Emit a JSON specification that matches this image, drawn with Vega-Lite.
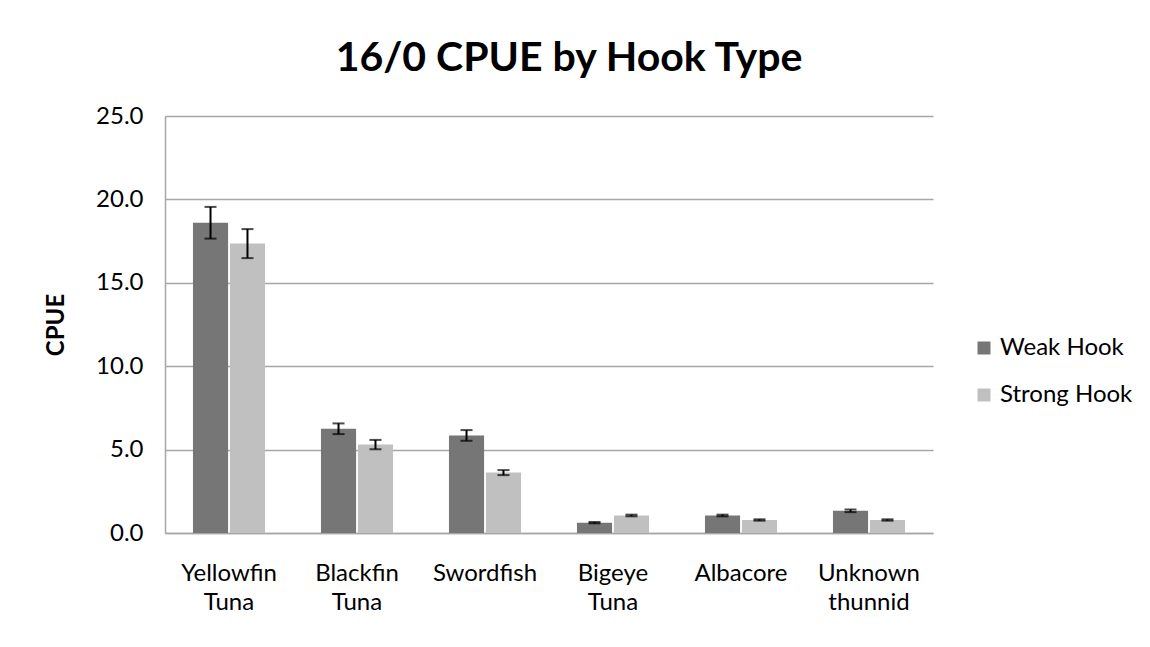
{
  "$schema": "https://vega.github.io/schema/vega-lite/v6.json",
  "width": 768,
  "height": 417,
  "autosize": {"type": "none"},
  "padding": {"left": 165, "top": 116, "right": 217, "bottom": 114},
  "background": "white",
  "config": {"font": "Lato", "view": {"stroke": null}},
  "title": {"text": "16/0 CPUE by Hook Type", "fontSize": 41, "fontWeight": "bold", "font": "Lato", "color": "black", "anchor": "middle", "dx": 20, "offset": 24},
  "data": {"values": [
    {"species": "Yellowfin Tuna", "hook": "Weak Hook", "cpue": 18.6, "lo": 17.65, "hi": 19.55},
    {"species": "Yellowfin Tuna", "hook": "Strong Hook", "cpue": 17.35, "lo": 16.48, "hi": 18.22},
    {"species": "Blackfin Tuna", "hook": "Weak Hook", "cpue": 6.25, "lo": 5.93, "hi": 6.57},
    {"species": "Blackfin Tuna", "hook": "Strong Hook", "cpue": 5.3, "lo": 5.02, "hi": 5.58},
    {"species": "Swordfish", "hook": "Weak Hook", "cpue": 5.85, "lo": 5.53, "hi": 6.17},
    {"species": "Swordfish", "hook": "Strong Hook", "cpue": 3.62, "lo": 3.47, "hi": 3.77},
    {"species": "Bigeye Tuna", "hook": "Weak Hook", "cpue": 0.62, "lo": 0.58, "hi": 0.66},
    {"species": "Bigeye Tuna", "hook": "Strong Hook", "cpue": 1.05, "lo": 1.0, "hi": 1.1},
    {"species": "Albacore", "hook": "Weak Hook", "cpue": 1.05, "lo": 1.0, "hi": 1.1},
    {"species": "Albacore", "hook": "Strong Hook", "cpue": 0.78, "lo": 0.74, "hi": 0.82},
    {"species": "Unknown thunnid", "hook": "Weak Hook", "cpue": 1.33, "lo": 1.25, "hi": 1.41},
    {"species": "Unknown thunnid", "hook": "Strong Hook", "cpue": 0.78, "lo": 0.74, "hi": 0.82}
  ]},
  "encoding": {
    "x": {
      "field": "species", "type": "nominal",
      "sort": ["Yellowfin Tuna", "Blackfin Tuna", "Swordfish", "Bigeye Tuna", "Albacore", "Unknown thunnid"],
      "scale": {"paddingInner": 0.437, "paddingOuter": 0.2185},
      "axis": {"title": null, "labelAngle": 0, "labelFontSize": 24, "labelColor": "black", "labelExpr": "split(datum.label, ' ')", "labelLineHeight": 29, "labelPadding": 28, "ticks": false, "domainColor": "#a6a6a6", "domainWidth": 1.5}
    },
    "xOffset": {"field": "hook", "type": "nominal", "sort": ["Weak Hook", "Strong Hook"], "scale": {"paddingInner": 0.05}}
  },
  "layer": [
    {
      "mark": {"type": "bar"},
      "encoding": {
        "y": {"field": "cpue", "type": "quantitative", "title": "CPUE",
          "scale": {"domain": [0, 25], "nice": false},
          "axis": {"values": [0, 5, 10, 15, 20, 25], "format": ".1f", "labelFontSize": 24, "labelColor": "black", "labelPadding": 22, "ticks": false, "gridColor": "#a6a6a6", "gridWidth": 1.5, "domainColor": "#a6a6a6", "domainWidth": 1.5, "titleFontSize": 24, "titleFontWeight": "bold", "titleColor": "black", "titlePadding": 27}},
        "color": {"field": "hook", "type": "nominal", "sort": ["Weak Hook", "Strong Hook"],
          "scale": {"domain": ["Weak Hook", "Strong Hook"], "range": ["#767676", "#c0c0c0"]},
          "legend": {"title": null, "orient": "none", "legendX": 807, "legendY": 220, "padding": 0, "symbolType": "square", "symbolSize": 169, "symbolStrokeWidth": 0, "labelFontSize": 24, "labelColor": "black", "rowPadding": 23, "labelOffset": 4}}
      }
    },
    {
      "mark": {"type": "rule", "color": "black", "strokeWidth": 2},
      "encoding": {"y": {"field": "lo", "type": "quantitative", "title": "CPUE", "scale": {"domain": [0, 25], "nice": false}}, "y2": {"field": "hi"}}
    },
    {
      "mark": {"type": "tick", "color": "black", "thickness": 2, "size": 12},
      "encoding": {"y": {"field": "lo", "type": "quantitative", "title": "CPUE", "scale": {"domain": [0, 25], "nice": false}}}
    },
    {
      "mark": {"type": "tick", "color": "black", "thickness": 2, "size": 12},
      "encoding": {"y": {"field": "hi", "type": "quantitative", "title": "CPUE", "scale": {"domain": [0, 25], "nice": false}}}
    }
  ]
}
